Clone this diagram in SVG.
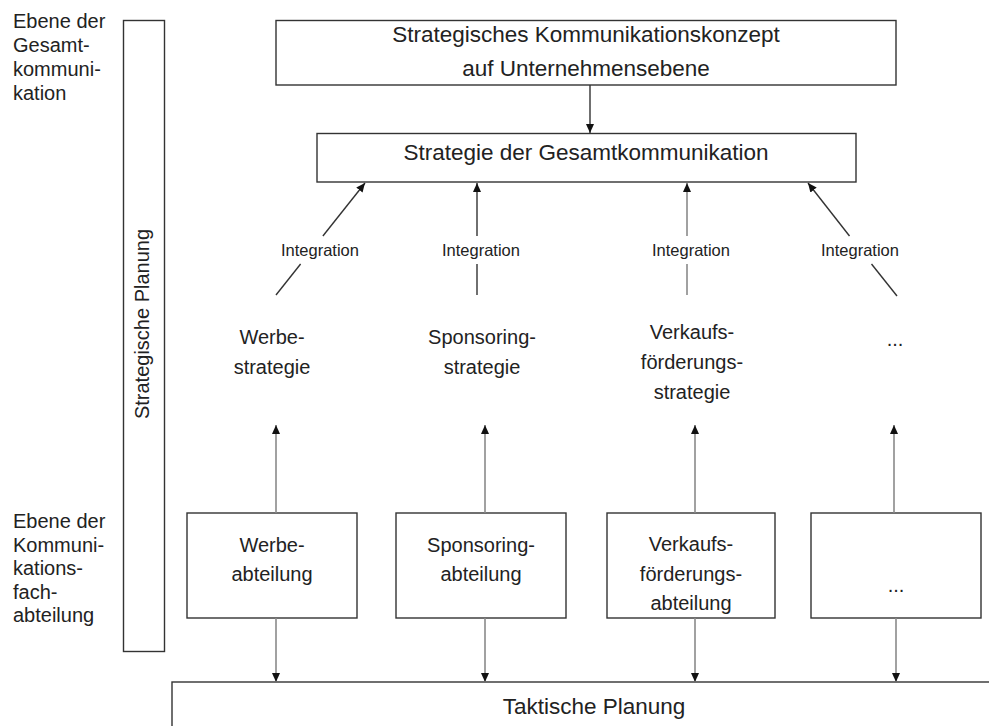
<svg xmlns="http://www.w3.org/2000/svg" width="989" height="726" viewBox="0 0 989 726">
  <style>
    .box { fill: #ffffff; stroke: #333333; stroke-width: 1.4; }
    .t { font-family: "Liberation Sans", Arial, sans-serif; fill: #222222; }
    .title { font-size: 22.5px; text-anchor: middle; }
    .lbl { font-size: 20px; text-anchor: middle; }
    .side { font-size: 20px; }
    .int { font-size: 16.5px; text-anchor: middle; }
    .ln { stroke: #333333; stroke-width: 1.4; fill: none; }
    .ln-grey { stroke: #8a8a8a; stroke-width: 1.6; fill: none; }
  </style>
  <defs>
    <marker id="arrow" markerUnits="userSpaceOnUse" markerWidth="10" markerHeight="8" refX="9" refY="4" orient="auto">
      <path d="M0,0 L9,4 L0,8 z" fill="#111111"/>
    </marker>
  </defs>

  <rect width="989" height="726" fill="#ffffff"/>

  <!-- side labels -->
  <g id="label-gesamt">
    <text class="t side" x="13" y="28">Ebene der</text>
    <text class="t side" x="13" y="52">Gesamt-</text>
    <text class="t side" x="13" y="76">kommuni-</text>
    <text class="t side" x="13" y="100">kation</text>
  </g>
  <g id="label-fachabteilung">
    <text class="t side" x="13" y="528">Ebene der</text>
    <text class="t side" x="13" y="552">Kommuni-</text>
    <text class="t side" x="13" y="575">kations-</text>
    <text class="t side" x="13" y="599">fach-</text>
    <text class="t side" x="13" y="622">abteilung</text>
  </g>

  <!-- vertical bar -->
  <g id="strategische-planung">
    <rect class="box" x="123.5" y="20.5" width="41" height="631"/>
    <text class="t lbl" transform="translate(149,324) rotate(-90)">Strategische Planung</text>
  </g>

  <!-- top level -->
  <g id="konzept">
    <rect class="box" x="276" y="20.5" width="620" height="64.5"/>
    <text class="t title" x="586" y="42">Strategisches Kommunikationskonzept</text>
    <text class="t title" x="586" y="76">auf Unternehmensebene</text>
  </g>
  <g id="gesamtstrategie">
    <rect class="box" x="317" y="133.5" width="539" height="48.5"/>
    <text class="t title" x="586" y="160">Strategie der Gesamtkommunikation</text>
  </g>

  <!-- strategies -->
  <g id="werbestrategie">
    <text class="t lbl" x="272" y="344">Werbe-</text>
    <text class="t lbl" x="272" y="374">strategie</text>
  </g>
  <g id="sponsoringstrategie">
    <text class="t lbl" x="482" y="344">Sponsoring-</text>
    <text class="t lbl" x="482" y="374">strategie</text>
  </g>
  <g id="vkf-strategie">
    <text class="t lbl" x="692" y="339">Verkaufs-</text>
    <text class="t lbl" x="692" y="369">förderungs-</text>
    <text class="t lbl" x="692" y="399">strategie</text>
  </g>
  <g id="weitere-strategie">
    <text class="t lbl" x="895" y="346">...</text>
  </g>

  <!-- departments -->
  <g id="werbeabteilung">
    <rect class="box" x="187" y="513" width="170" height="105"/>
    <text class="t lbl" x="272" y="552">Werbe-</text>
    <text class="t lbl" x="272" y="581">abteilung</text>
  </g>
  <g id="sponsoringabteilung">
    <rect class="box" x="396" y="513" width="170" height="105"/>
    <text class="t lbl" x="481" y="552">Sponsoring-</text>
    <text class="t lbl" x="481" y="581">abteilung</text>
  </g>
  <g id="vkf-abteilung">
    <rect class="box" x="607" y="513" width="168" height="105"/>
    <text class="t lbl" x="691" y="551">Verkaufs-</text>
    <text class="t lbl" x="691" y="581">förderungs-</text>
    <text class="t lbl" x="691" y="610">abteilung</text>
  </g>
  <g id="weitere-abteilung">
    <rect class="box" x="811" y="513" width="170" height="105"/>
    <text class="t lbl" x="896" y="592">...</text>
  </g>

  <!-- tactical planning -->
  <g id="taktische-planung">
    <rect class="box" x="172" y="682" width="840" height="60"/>
    <text class="t title" x="594" y="714">Taktische Planung</text>
  </g>

  <!-- connectors -->
  <g id="connectors">
    <line class="ln" x1="590" y1="85" x2="590" y2="133" marker-end="url(#arrow)"/>

    <!-- integration arrows -->
    <line class="ln" x1="276" y1="295" x2="300.6" y2="264"/>
    <line class="ln" x1="322.9" y1="236" x2="365" y2="183" marker-end="url(#arrow)"/>
    <text class="t int" x="320" y="255.5">Integration</text>

    <line class="ln" x1="477" y1="295" x2="477" y2="264"/>
    <line class="ln" x1="477" y1="236" x2="477" y2="183" marker-end="url(#arrow)"/>
    <text class="t int" x="481" y="255.5">Integration</text>

    <line class="ln-grey" x1="687" y1="295" x2="687" y2="264"/>
    <line class="ln-grey" x1="687" y1="236" x2="687" y2="183" marker-end="url(#arrow)"/>
    <text class="t int" x="691" y="255.5">Integration</text>

    <line class="ln" x1="897" y1="296" x2="871.5" y2="264"/>
    <line class="ln" x1="849.5" y1="236" x2="808" y2="183" marker-end="url(#arrow)"/>
    <text class="t int" x="860" y="255.5">Integration</text>

    <!-- department to strategy -->
    <line class="ln-grey" x1="276" y1="513" x2="276" y2="425" marker-end="url(#arrow)"/>
    <line class="ln-grey" x1="485" y1="513" x2="485" y2="425" marker-end="url(#arrow)"/>
    <line class="ln-grey" x1="695" y1="513" x2="695" y2="425" marker-end="url(#arrow)"/>
    <line class="ln-grey" x1="894" y1="513" x2="894" y2="425" marker-end="url(#arrow)"/>

    <!-- department to tactical planning -->
    <line class="ln-grey" x1="276" y1="618" x2="276" y2="682" marker-end="url(#arrow)"/>
    <line class="ln-grey" x1="485" y1="618" x2="485" y2="682" marker-end="url(#arrow)"/>
    <line class="ln-grey" x1="695" y1="618" x2="695" y2="682" marker-end="url(#arrow)"/>
    <line class="ln-grey" x1="896" y1="618" x2="896" y2="682" marker-end="url(#arrow)"/>
  </g>
</svg>
